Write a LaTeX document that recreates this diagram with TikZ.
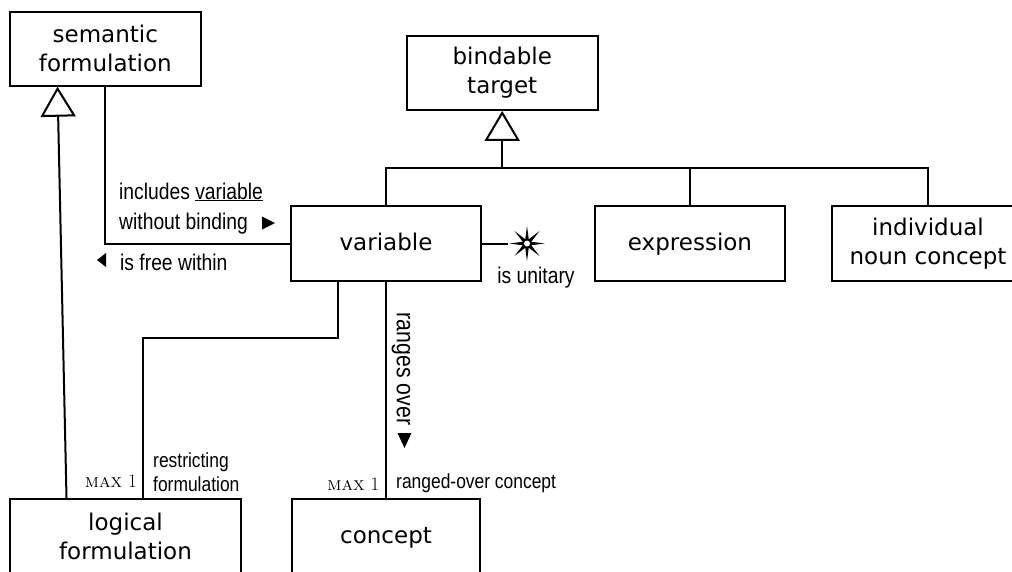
\documentclass[tikz,border=0pt]{standalone}
\usepackage{fontspec}
\usetikzlibrary{arrows.meta,calc,shapes.geometric}
\newfontfamily\boxfont{DejaVu Sans}
\newfontfamily\labfont[FakeStretch=0.85]{Liberation Sans}
\begin{document}
\begin{tikzpicture}[x=1pt,y=-1pt,
  box/.style={draw, line width=2pt, rectangle, inner sep=0pt, align=center,
    font=\boxfont\fontsize{23}{29}\selectfont},
  onebox/.style={box, text height=19pt, text depth=5pt},
  conn/.style={line width=2pt},
  gen/.style={conn, -{Triangle[open,length=30pt,width=35pt]}},
  lab/.style={inner sep=0pt, align=left, font=\labfont\fontsize{22.7}{30}\selectfont},
  role/.style={inner sep=0pt, align=left, font=\labfont\fontsize{20.5}{24}\selectfont},
  mult/.style={inner sep=0pt, font=\fontsize{19}{21}\selectfont},
  navtri/.style={fill=black, draw=none}]
\useasboundingbox (0,0) rectangle (1012,571);
\clip (0,0) rectangle (1012,571);
% boxes
\node[box, minimum width=191pt, minimum height=74pt] (sem) at (105.3,48.7) {semantic\\formulation};
\node[box, minimum width=191pt, minimum height=74pt] (bind) at (502.2,72.9) {bindable\\target};
\node[onebox, minimum width=190pt, minimum height=75pt] (var) at (386,243.5) {variable};
\node[onebox, minimum width=190pt, minimum height=75pt] (expr) at (690,243.5) {expression};
\node[box, minimum width=192pt, minimum height=75pt] (ind) at (928,243.5) {individual\\noun concept};
\node[box, minimum width=231pt, minimum height=75pt] (log) at (125.5,536.5) {logical\\formulation};
\node[onebox, minimum width=188pt, minimum height=75pt] (con) at (386,536.5) {concept};
% star
\node[star, star points=8, star point ratio=3.8, minimum size=35pt, inner sep=0pt, fill=black] (star) at (527,243.5) {};
\fill[white] (star.center) circle (3pt);
% coordinates
\coordinate (bary) at (0,168);
\coordinate (hy) at (0,338);
\coordinate (vl) at ($(var.south)+(-48,0)$);
\coordinate (lr) at ($(log.north)+(17.8,0)$);
\coordinate (genfrom) at ($(log.north west)+(57.5,0)$);
\coordinate (gento) at ($(sem.south west)+(48.7,0)$);
% connectors
\draw[conn] (sem.south) |- (var.west);
\draw[conn] (var.north) -- (var.north |- bary) -- (ind.north |- bary) -- (ind.north);
\draw[conn] (expr.north) -- (expr.north |- bary);
\draw[gen] (bind.south |- bary) -- (bind.south);
\draw[gen] (genfrom) -- (gento);
\draw[conn] (vl) -- (vl |- hy) -| (lr);
\draw[conn] (var.south) -- (con.north);
\draw[conn] (var.east) -- (star.west);
% labels
\node[lab, anchor=base west] (l1) at (119,229) {includes \underline{variable}\\without binding};
\fill[navtri] (262,216.5) -- (275,223) -- (262,229.5) -- cycle;
\node[lab, anchor=base west] (l2) at (120,270) {is free within};
\fill[navtri] (106,253) -- (97,260) -- (106,267) -- cycle;
\node[lab, anchor=base] (l3) at (536,283) {is unitary};
\node[lab, rotate=-90, font=\labfont\fontsize{25}{30}\selectfont] (l4) at (401,369) {ranges over};
\fill[navtri] (397.5,433) -- (411.5,433) -- (404.5,448) -- cycle;
\node[role, anchor=base west] (r1) at (153,491) {restricting\\formulation};
\node[role, anchor=base west] (r2) at (396,488) {ranged-over concept};
\node[mult, anchor=base east] (m1) at (137,487) {\textsc{max}~1};
\node[mult, anchor=base east] (m2) at (379.5,490) {\textsc{max}~1};
\end{tikzpicture}
\end{document}
